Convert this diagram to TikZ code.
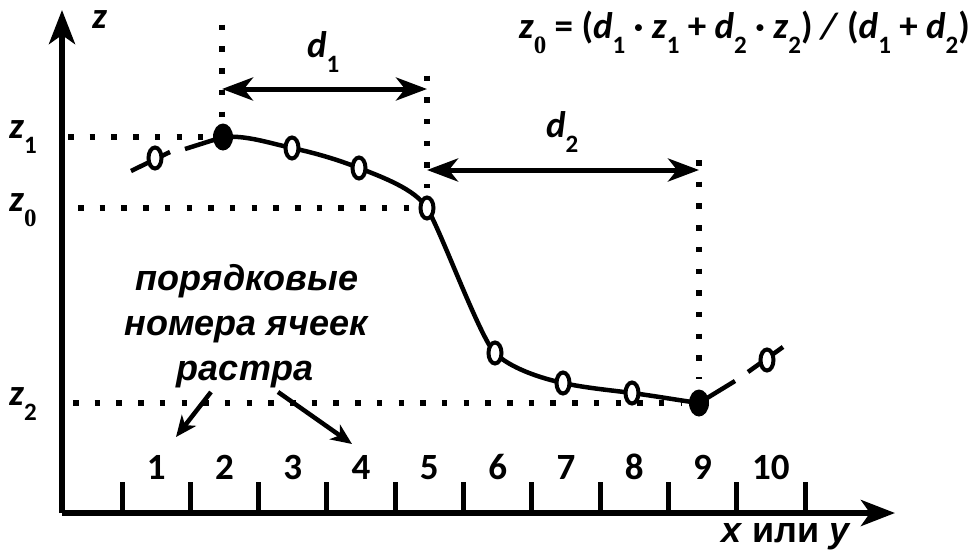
\documentclass[tikz,border=0pt]{standalone}
\usepackage{fontspec}
\setmainfont{Carlito}
\newfontfamily\arialf{Liberation Sans}
\newfontfamily\timesf{Liberation Serif}
\usetikzlibrary{arrows.meta,shapes.geometric}
\newcommand{\subn}[1]{\raisebox{-15pt}{\fontsize{25}{25}\selectfont\bfseries\upshape #1}}
\newcommand{\subt}[1]{\raisebox{-15pt}{\fontsize{25}{25}\selectfont\timesf\bfseries\upshape #1}}
\newcommand{\iz}{\textit{z}}
\newcommand{\id}{\textit{d}}
\begin{document}
\begin{tikzpicture}[x=1pt,y=-1pt,
  axis/.style={line width=5.5pt,-{Stealth[length=34pt,width=26pt,inset=9pt]}},
  dotline/.style={line width=5.5pt,dash pattern=on 5.5pt off 16.2pt},
  curve/.style={line width=4.5pt},
  openpt/.style={ellipse,draw,line width=4pt,fill=white,minimum width=13pt,minimum height=21pt,inner sep=0pt},
  fullpt/.style={ellipse,fill=black,minimum width=20pt,minimum height=27pt,inner sep=0pt},
  tickmark/.style={line width=5pt},
  dimarrow/.style={line width=5pt,{Stealth[length=31pt,width=23pt,inset=9pt]}-{Stealth[length=31pt,width=23pt,inset=9pt]}},
  ptr/.style={line width=4.5pt,-{Stealth[length=21pt,width=18pt,inset=6pt]}},
  lbl/.style={font=\fontsize{37}{37}\selectfont\bfseries,inner sep=0pt},
  rus/.style={font=\fontsize{36}{36}\selectfont\arialf\bfseries\itshape,inner sep=0pt,anchor=base}
]
\useasboundingbox (0,0) rectangle (974,552);
% axes
\coordinate (O) at (62,513);
\coordinate (ytip) at (62,10);
\coordinate (xtip) at (895,513);
\draw[axis] (O) -- (ytip);
\draw[axis] (O) -- (xtip);
% ticks and numbers
\foreach \i in {0,...,10} {
  \coordinate (tb\i) at ({122+68.3*\i},513);
  \coordinate (tt\i) at ({122+68.3*\i},482);
  \draw[tickmark] (tb\i) -- (tt\i);
}
\foreach \i in {1,...,10} {
  \node[lbl,anchor=base] (n\i) at ({122+68.3*\i-34.15},479) {\i};
}
% points
\coordinate (c1) at (155,158);
\coordinate (c2) at (223,137);
\coordinate (c3) at (292,148);
\coordinate (c4) at (359,168);
\coordinate (c5) at (427,208);
\coordinate (c6) at (495,353);
\coordinate (c7) at (563,383);
\coordinate (c8) at (632,393);
\coordinate (c9) at (699,403);
\coordinate (c10) at (767,360);
% dotted guide lines
\coordinate (h1a) at (68,137);  \coordinate (h1b) at (203,137);
\coordinate (h0a) at (78,208);  \coordinate (h0b) at (412,208);
\coordinate (h2a) at (73,403);  \coordinate (h2b) at (682,403);
\coordinate (v2a) at (222,24.7); \coordinate (v2b) at (222,118);
\coordinate (v5a) at (427,75.5); \coordinate (v5b) at (427,188);
\coordinate (v9a) at (699,160); \coordinate (v9b) at (699,379);
\draw[dotline] (h1a) -- (h1b);
\draw[dotline] (h0a) -- (h0b);
\draw[dotline] (h2a) -- (h2b);
\draw[dotline] (v2a) -- (v2b);
\draw[dotline] (v5a) -- (v5b);
\draw[dotline] (v9a) -- (v9b);
% curve
\draw[curve] (c2) .. controls +(23,-2) and +(-23,-5) .. (c3)
  .. controls +(23,5) and +(-23,-9) .. (c4)
  .. controls +(23,9) and +(-12,-19) .. (c5)
  .. controls +(14,23) and +(-15,-15) .. (c6)
  .. controls +(15,15) and +(-23,-5) .. (c7)
  .. controls +(23,5) and +(-23,-3) .. (c8)
  .. controls +(23,3) and +(-22,-3) .. (c9);
% dashed extensions
\coordinate (e1a) at (131,171); \coordinate (e1b) at (170,152);
\coordinate (e2a) at (185,149);
\coordinate (e3b) at (735,381);
\coordinate (e4a) at (748,372); \coordinate (e4b) at (783,347);
\draw[curve] (e1a) -- (e1b);
\draw[curve] (e2a) -- (c2);
\draw[curve] (c9) -- (e3b);
\draw[curve] (e4a) -- (e4b);
% markers
\node[openpt] (p1) at (c1) {};
\node[fullpt] (p2) at (c2) {};
\node[openpt] (p3) at (c3) {};
\node[openpt] (p4) at (c4) {};
\node[openpt] (p5) at (c5) {};
\node[openpt] (p6) at (c6) {};
\node[openpt] (p7) at (c7) {};
\node[openpt] (p8) at (c8) {};
\node[fullpt] (p9) at (c9) {};
\node[openpt] (p10) at (c10) {};
% dimension arrows
\coordinate (d1a) at (222,89); \coordinate (d1b) at (427,89);
\coordinate (d2a) at (427,170); \coordinate (d2b) at (699,170);
\draw[dimarrow] (d1a) -- (d1b);
\draw[dimarrow] (d2a) -- (d2b);
\node[lbl,anchor=base west] (ld1) at (307,57) {\id\subn{1}};
\node[lbl,anchor=base west] (ld2) at (546,137) {\id\subn{2}};
% axis labels
\node[lbl,anchor=base west] (lz) at (92,28) {\iz};
\node[lbl,anchor=base west] (lz1) at (9,138) {\iz\subn{1}};
\node[lbl,anchor=base west] (lz0) at (9,211) {\iz\subt{0}};
\node[lbl,anchor=base west] (lz2) at (9,405) {\iz\subn{2}};
\node[rus,font=\fontsize{36}{36}\selectfont\arialf\bfseries] (lx) at (786,542) {\textit{x} или \textit{y}};
% formula
\node[lbl,anchor=base east] (f) at (970,38) {\iz\subt{0} = (\id\subn{1} · \iz\subn{1} + \id\subn{2} · \iz\subn{2}) \textit{/} (\id\subn{1} + \id\subn{2})};
% russian text
\node[rus] (t1) at (247,290) {порядковые};
\node[rus] (t2) at (246,335) {номера ячеек};
\node[rus] (t3) at (245,380) {растра};
\coordinate (a1s) at (211,392); \coordinate (a1t) at (176,437);
\coordinate (a2s) at (278,392); \coordinate (a2t) at (352,444);
\draw[ptr] (a1s) -- (a1t);
\draw[ptr] (a2s) -- (a2t);
\end{tikzpicture}
\end{document}
